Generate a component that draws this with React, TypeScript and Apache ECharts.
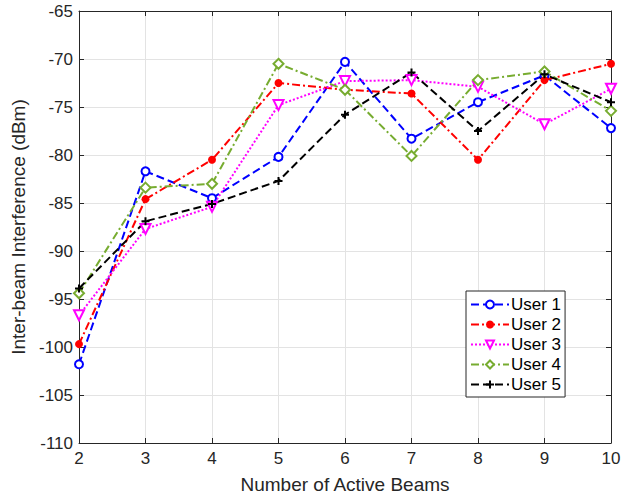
import React, { useEffect, useRef } from "react";
import * as echarts from "echarts";

const beams = [2, 3, 4, 5, 6, 7, 8, 9, 10];
const user1 = [-101.8, -81.7, -84.5, -80.2, -70.3, -78.3, -74.5, -71.7, -77.2];
const user2 = [-99.7, -84.6, -80.5, -72.5, -73.2, -73.6, -80.5, -72.2, -70.5];
const user3 = [-96.7, -87.7, -85.4, -74.8, -72.3, -72.2, -72.9, -76.8, -73.1];
const user4 = [-94.4, -83.4, -83.0, -70.5, -73.2, -80.1, -72.2, -71.3, -75.4];
const user5 = [-93.9, -86.9, -85.1, -82.7, -75.8, -71.4, -77.5, -71.6, -74.5];
const yTicks = { min: -110, max: -65, interval: 5 };
const xTicks = { min: 2, max: 10, interval: 1 };

const FONT = "Liberation Sans";
const PLUS = "path://M3,0H5V3H8V5H5V8H3V5H0V3H3Z";

export default function App() {
  const ref = useRef<HTMLDivElement>(null);
  useEffect(() => {
    const chart = echarts.init(ref.current!, null, { renderer: "svg" });
    const mk = (name: string, data: number[], color: string, type: any, symbol: string, size: number, filled: boolean, rotate = 0) => ({
      name,
      type: "line",
      data: beams.map((b, i) => [b, data[i]]),
      symbol,
      symbolSize: size,
      symbolRotate: rotate,
      showAllSymbol: true,
      lineStyle: { color, width: 2, type },
      itemStyle: { color: filled ? color : "#ffffff", borderColor: color, borderWidth: filled ? 0 : 2 },
      emphasis: { disabled: true },
      z: 3,
    });
    const axisCommon = {
      axisLine: { show: true, onZero: false, lineStyle: { color: "#262626", width: 1 } },
      axisTick: { show: true, inside: true, length: 5, lineStyle: { color: "#262626" } },
    };
    chart.setOption({
      animation: false,
      backgroundColor: "#ffffff",
      grid: { left: 79, right: 23, top: 11, bottom: 57 },
      textStyle: { fontFamily: FONT },
      xAxis: [
        {
          type: "value",
          ...xTicks,
          ...axisCommon,
          axisLabel: { color: "#262626", fontSize: 17, fontFamily: FONT, margin: 7 },
          splitLine: { show: true, lineStyle: { color: "#e3e3e3", width: 1 } },
          name: "Number of Active Beams",
          nameLocation: "middle",
          nameGap: 32,
          nameTextStyle: { color: "#262626", fontSize: 19, fontFamily: FONT },
        },
        {
          type: "value",
          position: "top",
          ...xTicks,
          ...axisCommon,
          axisLabel: { show: false },
          splitLine: { show: false },
        },
      ],
      yAxis: [
        {
          type: "value",
          ...yTicks,
          ...axisCommon,
          axisLabel: { color: "#262626", fontSize: 17, fontFamily: FONT, margin: 6 },
          splitLine: { show: true, lineStyle: { color: "#e3e3e3", width: 1 } },
          name: "Inter-beam Interference (dBm)",
          nameLocation: "middle",
          nameGap: 47,
          nameTextStyle: { color: "#262626", fontSize: 19, fontFamily: FONT },
        },
        {
          type: "value",
          position: "right",
          ...yTicks,
          ...axisCommon,
          axisLabel: { show: false },
          splitLine: { show: false },
        },
      ],
      legend: {
        orient: "vertical",
        left: 466,
        top: 291,
        itemWidth: 38,
        itemHeight: 10,
        itemGap: 3,
        padding: [5, 4, 4, 4],
        backgroundColor: "#ffffff",
        borderColor: "#262626",
        borderWidth: 1,
        borderRadius: 0,
        textStyle: { color: "#000", fontSize: 17, fontFamily: FONT, padding: [0, 0, 0, -3] },
        selectedMode: false,
      },
      series: [
        mk("User 1", user1, "#0000ff", "dashed", "circle", 8, false),
        mk("User 2", user2, "#ff0000", [8, 3, 2, 3], "circle", 8, true),
        mk("User 3", user3, "#ff00ff", "dotted", "triangle", 10, false, 180),
        mk("User 4", user4, "#77ac30", [8, 3, 2, 3], "diamond", 10, false),
        { ...mk("User 5", user5, "#000000", "dashed", PLUS, 8, true) },
      ],
    });
    return () => chart.dispose();
  }, []);
  return <div ref={ref} style={{ width: 634, height: 500, position: "absolute", left: 0, top: 0 }} />;
}
